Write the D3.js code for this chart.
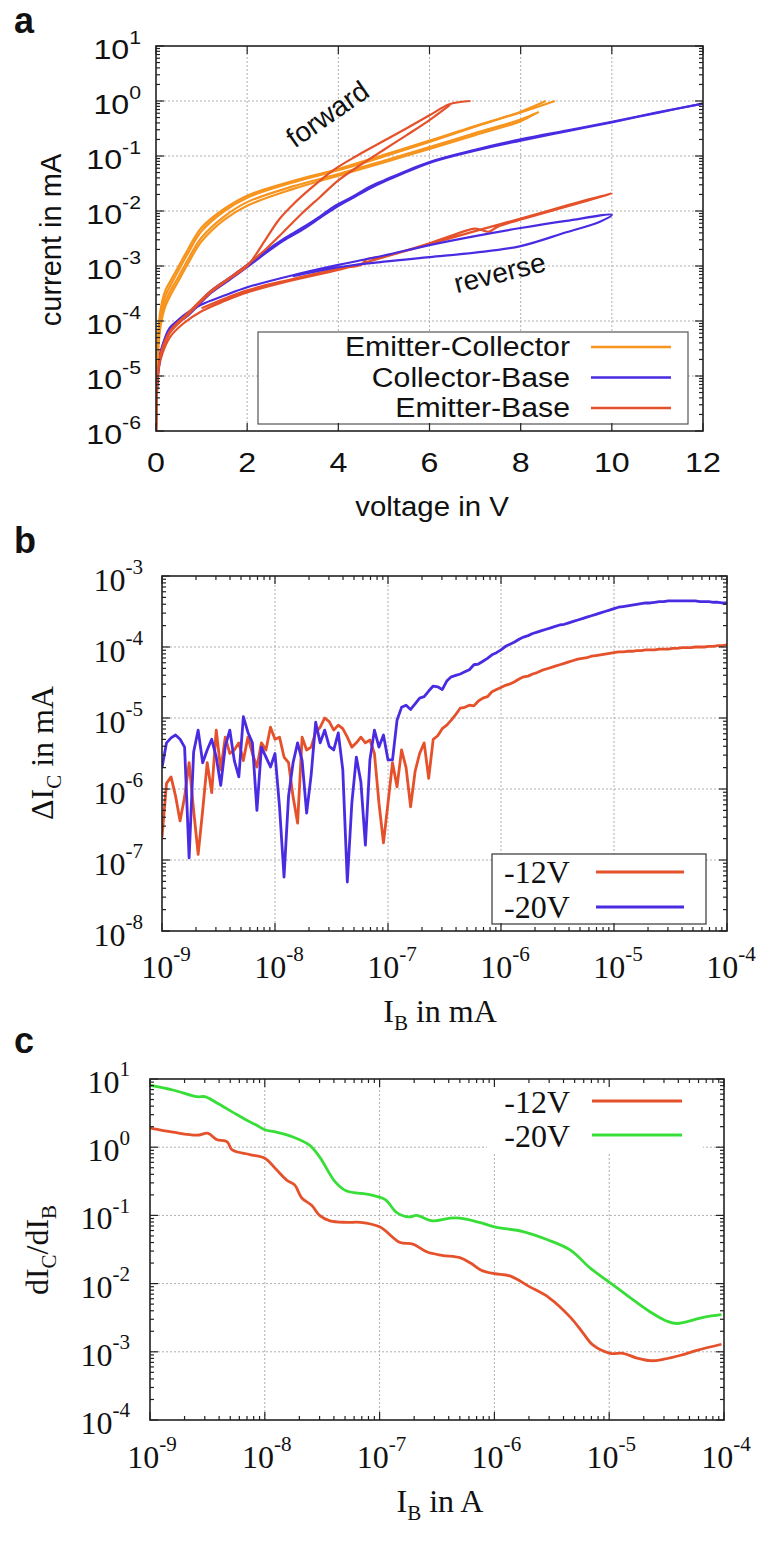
<!DOCTYPE html>
<html>
<head>
<meta charset="utf-8">
<script src="https://cdn.jsdelivr.net/npm/d3@7"></script>
<style>
body { margin: 0; background: #fff; }
</style>
</head>
<body>
<svg id="chart" width="759" height="1554"></svg>
<script>
// ---------- panel a : I-V sweeps, [voltage in V, current in mA] ----------
const ecSweep1 = [[0,1e-6],[0.01,5e-6],[0.02,1.5e-5],[0.05,6e-5],[0.1,1.6e-4],[0.2,3.5e-4],[0.35,6e-4],[0.5,1e-3],[0.7,2e-3],[1,5e-3],[1.5,1.1e-2],[2,1.9e-2],[3,3.5e-2],[4,5.8e-2],[5,0.105],[6,0.19],[7,0.35],[8,0.62],[8.75,1.0]];
const ecSweep2 = [[0,1e-6],[0.01,4e-6],[0.02,1.2e-5],[0.05,5e-5],[0.1,1.3e-4],[0.2,2.8e-4],[0.35,5e-4],[0.5,8.5e-4],[0.7,1.7e-3],[1,4.3e-3],[1.5,1e-2],[2,1.75e-2],[3,3.3e-2],[4,5.5e-2],[5,9.8e-2],[6,0.18],[7,0.34],[8,0.64],[8.55,1.0]];
const ecSweep3 = [[0,1e-6],[0.02,1e-5],[0.05,4e-5],[0.1,1e-4],[0.2,2.2e-4],[0.35,4e-4],[0.5,6.5e-4],[0.7,1.3e-3],[1,3.3e-3],[1.5,8e-3],[2,1.45e-2],[3,2.8e-2],[4,4.7e-2],[5,8.2e-2],[6,0.145],[7,0.26],[8,0.46],[8.4,0.63]];
const ecSweep4 = [[0,1e-6],[0.02,8e-6],[0.05,3e-5],[0.1,8e-5],[0.2,1.8e-4],[0.35,3.3e-4],[0.5,5.5e-4],[0.7,1.1e-3],[1,2.8e-3],[1.5,7e-3],[2,1.25e-2],[3,2.5e-2],[4,4.4e-2],[5,7.6e-2],[6,0.135],[7,0.24],[8,0.43],[8.3,0.58]];

const cbForward1 = [[0,1e-6],[0.02,5e-6],[0.05,1.2e-5],[0.1,2.2e-5],[0.3,7e-5],[0.7,1.25e-4],[1.2,3.2e-4],[1.6,5.5e-4],[2,9.5e-4],[2.4,1.7e-3],[2.8,2.9e-3],[3.2,4.5e-3],[3.6,7.5e-3],[3.9,1.1e-2],[4.3,1.7e-2],[4.7,2.6e-2],[5,3.4e-2],[6,7.5e-2],[7,0.125],[8,0.19],[9,0.28],[10,0.41],[11,0.61],[12,0.9]];
const cbForward2 = [[0,1e-6],[0.02,6e-6],[0.05,1.4e-5],[0.1,2.5e-5],[0.3,7.5e-5],[0.7,1.35e-4],[1.2,3.5e-4],[1.6,6e-4],[2,1.05e-3],[2.4,1.85e-3],[2.8,3.1e-3],[3.2,4.9e-3],[3.6,8e-3],[3.9,1.2e-2],[4.3,1.8e-2],[4.7,2.8e-2],[5,3.6e-2],[6,7.8e-2],[7,0.13],[8,0.2],[9,0.29],[10,0.42],[11,0.62],[12,0.9]];
const cbReverse = [[0,1e-6],[0.02,6e-6],[0.05,1.5e-5],[0.1,2.8e-5],[0.3,7e-5],[0.6,1.25e-4],[1,2e-4],[1.5,2.9e-4],[2,4.1e-4],[3,6.8e-4],[4,1.05e-3],[5,1.55e-3],[6,2.4e-3],[7,3.5e-3],[8,4.9e-3],[9,6.6e-3],[10,8.5e-3],[9.7,6.2e-3],[9,4.1e-3],[8,2.3e-3],[7,1.75e-3],[6,1.45e-3],[5,1.2e-3],[4,9.5e-4],[3,6.5e-4]];

const ebForward1 = [[0,1e-6],[0.02,5e-6],[0.05,1.2e-5],[0.1,2.2e-5],[0.3,6e-5],[0.7,1.3e-4],[1.2,3.3e-4],[1.6,5.8e-4],[2,1e-3],[2.4,3e-3],[2.7,7e-3],[3,1.3e-2],[3.4,2.6e-2],[3.9,5.6e-2],[4.4,0.1],[4.9,0.17],[5.5,0.32],[6,0.55],[6.45,0.88],[6.9,1.0]];
const ebForward2 = [[0,1e-6],[0.02,6e-6],[0.05,1.4e-5],[0.1,2.5e-5],[0.3,6.5e-5],[0.7,1.4e-4],[1.2,3.5e-4],[1.6,6e-4],[2,1.05e-3],[2.4,2e-3],[2.8,4.2e-3],[3.2,9e-3],[3.6,1.8e-2],[4,3.6e-2],[4.5,7e-2],[5,0.13],[5.5,0.24],[6,0.45],[6.45,0.85]];
const ebReverse = [[0,1e-6],[0.02,5e-6],[0.05,1.1e-5],[0.1,2e-5],[0.3,5e-5],[0.6,9e-5],[1,1.5e-4],[1.5,2.3e-4],[2,3.3e-4],[3,5.5e-4],[4,8.5e-4],[4.5,1.1e-3],[5,1.45e-3],[6,2.5e-3],[7,4.3e-3],[8,7.3e-3],[9,1.25e-2],[10,2.1e-2],[9.8,1.85e-2],[9,1.2e-2],[8,7e-3],[7.5,5.2e-3],[7.3,4.2e-3],[7.0,4.8e-3],[6.5,3.6e-3],[6,2.6e-3],[5,1.5e-3],[4.6,1.3e-3],[4.5,1.05e-3],[4,9e-4],[3,5.8e-4],[2,3.6e-4],[1,1.7e-4]];

const legendA = ["Emitter-Collector", "Collector-Base", "Emitter-Base"];

// ---------- panel b : log10 of I_B (mA) and log10 of delta I_C (mA) ----------
const ibLog = [
  -9.00,-8.96,-8.92,-8.88,-8.84,-8.80,-8.76,-8.72,-8.68,-8.64,
  -8.60,-8.56,-8.52,-8.48,-8.44,-8.40,-8.36,-8.32,-8.28,-8.24,
  -8.20,-8.16,-8.12,-8.08,-8.04,-8.00,-7.96,-7.92,-7.88,-7.84,
  -7.80,-7.76,-7.72,-7.68,-7.64,-7.60,-7.56,-7.52,-7.48,-7.44,
  -7.40,-7.36,-7.32,-7.28,-7.24,-7.20,-7.16,-7.12,-7.08,-7.04,
  -7.00,-6.96,-6.92,-6.88,-6.84,-6.80,-6.76,-6.72,-6.68,-6.64,
  -6.60,-6.56,-6.52,-6.48,-6.44,-6.40,-6.36,-6.32,-6.28,-6.24,
  -6.20,-6.16,-6.12,-6.08,-6.04,-6.00,-5.96,-5.92,-5.88,-5.84,
  -5.80,-5.76,-5.72,-5.68,-5.64,-5.60,-5.56,-5.52,-5.48,-5.44,
  -5.40,-5.36,-5.32,-5.28,-5.24,-5.20,-5.16,-5.12,-5.08,-5.04,
  -5.00,-4.96,-4.92,-4.88,-4.84,-4.80,-4.76,-4.72,-4.68,-4.64,
  -4.60,-4.56,-4.52,-4.48,-4.44,-4.40,-4.36,-4.32,-4.28,-4.24,
  -4.20,-4.16,-4.12,-4.08,-4.04,-4.00];
const dIc12Log = [
  -6.68,-5.92,-5.83,-6.10,-6.45,-6.11,-5.63,-6.30,-6.92,-6.30,
  -5.63,-6.05,-5.17,-5.73,-5.27,-5.50,-5.45,-5.35,-5.60,-5.27,
  -5.50,-5.69,-5.35,-5.45,-5.13,-5.30,-5.27,-5.55,-5.63,-6.11,
  -6.48,-5.27,-5.45,-5.41,-5.20,-5.13,-5.00,-5.05,-5.17,-5.10,
  -5.15,-5.27,-5.41,-5.35,-5.27,-5.35,-5.31,-5.50,-6.20,-6.76,
  -6.20,-5.63,-5.97,-5.45,-5.70,-6.25,-5.75,-5.50,-5.35,-5.85,
  -5.30,-5.25,-5.15,-5.10,-5.03,-4.95,-4.86,-4.85,-4.82,-4.83,
  -4.76,-4.72,-4.70,-4.63,-4.60,-4.57,-4.54,-4.52,-4.49,-4.45,
  -4.42,-4.41,-4.38,-4.36,-4.33,-4.31,-4.29,-4.27,-4.25,-4.23,
  -4.21,-4.19,-4.17,-4.16,-4.15,-4.13,-4.12,-4.11,-4.10,-4.09,
  -4.08,-4.07,-4.07,-4.06,-4.06,-4.05,-4.05,-4.04,-4.04,-4.04,
  -4.03,-4.03,-4.03,-4.02,-4.02,-4.01,-4.01,-4.01,-4.00,-4.00,
  -4.00,-3.99,-3.99,-3.98,-3.98,-3.97];
const dIc20Log = [
  -5.70,-5.35,-5.28,-5.24,-5.30,-5.41,-6.97,-5.48,-5.17,-5.63,
  -5.45,-5.30,-5.55,-5.95,-5.40,-5.17,-5.60,-5.83,-4.98,-5.20,
  -5.35,-6.30,-5.41,-5.55,-5.69,-5.50,-6.25,-7.24,-6.10,-5.63,
  -5.35,-5.60,-6.34,-5.80,-5.06,-5.35,-5.17,-5.40,-5.45,-5.21,
  -5.73,-7.31,-6.20,-5.55,-5.90,-6.79,-5.59,-5.17,-5.41,-5.24,
  -5.59,-5.59,-5.03,-4.85,-4.82,-4.88,-4.80,-4.72,-4.70,-4.62,
  -4.55,-4.56,-4.60,-4.48,-4.42,-4.40,-4.38,-4.35,-4.32,-4.25,
  -4.24,-4.20,-4.16,-4.11,-4.08,-4.04,-3.99,-3.96,-3.93,-3.89,
  -3.86,-3.84,-3.81,-3.79,-3.77,-3.75,-3.73,-3.71,-3.69,-3.68,
  -3.66,-3.64,-3.62,-3.60,-3.58,-3.56,-3.54,-3.52,-3.50,-3.48,
  -3.46,-3.44,-3.43,-3.42,-3.41,-3.40,-3.39,-3.38,-3.38,-3.37,
  -3.36,-3.36,-3.35,-3.35,-3.35,-3.35,-3.35,-3.35,-3.35,-3.36,
  -3.36,-3.36,-3.37,-3.37,-3.38,-3.38];

// ---------- panel c : [I_B in A, dI_C/dI_B] ----------
const gain12 = [[1.0e-9,1.9],[1.58e-9,1.66],[2.57e-9,1.5],[3.2e-9,1.6],[3.8e-9,1.3],[4.7e-9,1.2],[5.2e-9,0.91],[7.4e-9,0.78],[1.0e-8,0.69],[1.26e-8,0.47],[1.55e-8,0.33],[1.82e-8,0.28],[2.1e-8,0.18],[2.57e-8,0.14],[3.0e-8,0.10],[3.7e-8,0.083],[5.2e-8,0.079],[6.8e-8,0.079],[1.0e-7,0.068],[1.51e-7,0.040],[1.95e-7,0.038],[2.6e-7,0.029],[3.5e-7,0.026],[5.0e-7,0.024],[6.2e-7,0.020],[7.8e-7,0.0155],[1.0e-6,0.014],[1.38e-6,0.0129],[2.0e-6,0.0091],[3.0e-6,0.0062],[4.6e-6,0.0032],[5.9e-6,0.0019],[7.2e-6,0.00126],[1.02e-5,0.00095],[1.32e-5,0.00095],[1.74e-5,0.00081],[2.3e-5,0.00074],[3.0e-5,0.00078],[4.2e-5,0.00089],[5.8e-5,0.00105],[9.5e-5,0.00129]];
const gain20 = [[1.0e-9,8.1],[1.58e-9,6.9],[2.57e-9,5.5],[3.0e-9,5.5],[3.8e-9,4.5],[5.2e-9,3.3],[6.9e-9,2.5],[8.5e-9,2.1],[1.0e-8,1.8],[1.26e-8,1.66],[1.78e-8,1.4],[2.45e-8,1.07],[3.0e-8,0.72],[4.1e-8,0.31],[5.1e-8,0.23],[8.3e-8,0.20],[1.12e-7,0.17],[1.41e-7,0.11],[1.82e-7,0.095],[2.1e-7,0.10],[2.9e-7,0.083],[4.1e-7,0.091],[5.0e-7,0.091],[7.4e-7,0.079],[1.0e-6,0.068],[1.78e-6,0.058],[2.9e-6,0.044],[4.6e-6,0.031],[6.8e-6,0.017],[1.0e-5,0.0105],[1.51e-5,0.0063],[2.3e-5,0.0038],[3.2e-5,0.0028],[3.9e-5,0.0026],[6.6e-5,0.0032],[9.5e-5,0.0035]];

const voltLegend = ["-12V", "-20V"];

// ---------- drawing ----------
const svg = d3.select("#chart");
const sans = "'Liberation Sans', Arial, sans-serif";
const serif = "'Liberation Serif', 'Times New Roman', serif";
const orange = "#f7941d", blue = "#4a2be2", red = "#e5512b", green = "#38de38";
const stretchA = 1.15; // panel a lettering looks horizontally widened

function tickList(scale, isLog, step) {
  if (!isLog) return d3.range(scale.domain()[0], scale.domain()[1] + 1e-9, step).map(v => ({v: v, major: true}));
  return scale.ticks().map(v => {
    const l = Math.log10(v);
    return {v: v, major: Math.abs(l - Math.round(l)) < 1e-6};
  });
}

function drawGrid(g, x, y, xt, yt) {
  const [xl, xr] = x.range(), [yb, ytop] = y.range();
  g.append("g").selectAll("line")
    .data(xt.filter(d => d.major && x(d.v) > xl + 2 && x(d.v) < xr - 2))
    .join("line")
    .attr("x1", d => x(d.v)).attr("x2", d => x(d.v))
    .attr("y1", yb).attr("y2", ytop)
    .attr("stroke", "#b0b0b0").attr("stroke-dasharray", "2,2");
  g.append("g").selectAll("line")
    .data(yt.filter(d => d.major && y(d.v) < yb - 2 && y(d.v) > ytop + 2))
    .join("line")
    .attr("y1", d => y(d.v)).attr("y2", d => y(d.v))
    .attr("x1", xl).attr("x2", xr)
    .attr("stroke", "#b0b0b0").attr("stroke-dasharray", "2,2");
}

function drawTicks(g, x, y, xt, yt) {
  const [xl, xr] = x.range(), [yb, ytop] = y.range();
  const tk = g.append("g").attr("stroke", "#222").attr("stroke-width", 1.2);
  xt.forEach(d => {
    const len = d.major ? 8 : 4, px = x(d.v);
    tk.append("line").attr("x1", px).attr("x2", px).attr("y1", yb).attr("y2", yb - len);
    tk.append("line").attr("x1", px).attr("x2", px).attr("y1", ytop).attr("y2", ytop + len);
  });
  yt.forEach(d => {
    const len = d.major ? 8 : 4, py = y(d.v);
    tk.append("line").attr("y1", py).attr("y2", py).attr("x1", xl).attr("x2", xl + len);
    tk.append("line").attr("y1", py).attr("y2", py).attr("x1", xr).attr("x2", xr - len);
  });
  g.append("rect")
    .attr("x", xl).attr("y", ytop).attr("width", xr - xl).attr("height", yb - ytop)
    .attr("fill", "none").attr("stroke", "#222").attr("stroke-width", 1.6);
}

// text placed at (px,py), optionally widened horizontally
function label(g, px, py, size, family, anchor, sx) {
  return g.append("text")
    .attr("transform", "translate(" + px + "," + py + ") scale(" + (sx || 1) + ",1)")
    .attr("font-family", family).attr("font-size", size)
    .attr("text-anchor", anchor).attr("fill", "#111");
}

function powLabel(g, px, py, exp, size, family, anchor, sx) {
  const t = label(g, px, py, size, family, anchor, sx);
  t.append("tspan").text("10");
  t.append("tspan").attr("dy", -size * 0.52).attr("font-size", size * 0.66).text(exp);
}

function clipFor(id, x, y) {
  const [xl, xr] = x.range(), [yb, ytop] = y.range();
  svg.append("clipPath").attr("id", id).append("rect")
    .attr("x", xl).attr("y", ytop).attr("width", xr - xl).attr("height", yb - ytop);
}

function panelLetter(txt, px, py) {
  svg.append("text").attr("x", px).attr("y", py)
    .attr("font-family", sans).attr("font-weight", "bold").attr("font-size", 36)
    .attr("fill", "#111").text(txt);
}

// ===== panel a =====
const xA = d3.scaleLinear().domain([0, 12]).range([156, 703]);
const yA = d3.scaleLog().domain([1e-6, 10]).range([431, 46]);
const xtA = tickList(xA, false, 2), ytA = tickList(yA, true);
const gA = svg.append("g");
drawGrid(gA, xA, yA, xtA, ytA);
clipFor("clipA", xA, yA);

const lineA = d3.line().x(d => xA(d[0])).y(d => yA(d[1])).curve(d3.curveCatmullRom.alpha(0.5));
const curvesA = [
  {data: ebReverse, color: red}, {data: cbReverse, color: blue},
  {data: cbForward1, color: blue}, {data: cbForward2, color: blue},
  {data: ecSweep1, color: orange}, {data: ecSweep2, color: orange},
  {data: ecSweep3, color: orange}, {data: ecSweep4, color: orange},
  {data: ebForward1, color: red}, {data: ebForward2, color: red}
];
gA.append("g").attr("clip-path", "url(#clipA)")
  .selectAll("path").data(curvesA).join("path")
  .attr("d", d => lineA(d.data))
  .attr("fill", "none").attr("stroke", d => d.color)
  .attr("stroke-width", 2.2).attr("stroke-linejoin", "round");

// legend a
const legA = gA.append("g");
legA.append("rect").attr("x", 258).attr("y", 332).attr("width", 430).attr("height", 92)
  .attr("fill", "#fff").attr("stroke", "#555").attr("stroke-width", 1.2);
legendA.forEach((name, i) => {
  const cy = 347 + i * 30.5;
  label(legA, 570, cy + 9, 27, sans, "end", 1.12).text(name);
  legA.append("line").attr("x1", 591).attr("x2", 671).attr("y1", cy).attr("y2", cy)
    .attr("stroke", [orange, blue, red][i]).attr("stroke-width", 2.5);
});

drawTicks(gA, xA, yA, xtA, ytA);

ytA.filter(d => d.major).forEach(d => {
  powLabel(gA, 141, yA(d.v) + 13, String(Math.round(Math.log10(d.v))), 28, sans, "end", stretchA);
});
xtA.forEach(d => {
  label(gA, xA(d.v), 472, 28, sans, "middle", stretchA).text(d.v);
});
label(gA, 432, 516, 28, sans, "middle", 1.05).text("voltage in V");
gA.append("text").attr("transform", "translate(61,240) rotate(-90)").attr("text-anchor", "middle")
  .attr("font-family", sans).attr("font-size", 29).attr("fill", "#111").text("current in mA");
gA.append("text").attr("transform", "translate(333,122) rotate(-35)").attr("text-anchor", "middle")
  .attr("font-family", sans).attr("font-size", 28).attr("fill", "#111").text("forward");
gA.append("text").attr("transform", "translate(502,282) rotate(-14)").attr("text-anchor", "middle")
  .attr("font-family", sans).attr("font-size", 28).attr("fill", "#111").text("reverse");
panelLetter("a", 14, 33);

// ===== panel b =====
const xB = d3.scaleLog().domain([1e-9, 1e-4]).range([162, 727]);
const yB = d3.scaleLog().domain([1e-8, 1e-3]).range([931, 576]);
const xtB = tickList(xB, true), ytB = tickList(yB, true);
const gB = svg.append("g");
drawGrid(gB, xB, yB, xtB, ytB);
clipFor("clipB", xB, yB);

const seriesB = [
  {vals: dIc12Log, color: red},
  {vals: dIc20Log, color: blue}
];
const lineB = d3.line().x(d => xB(d[0])).y(d => yB(d[1]));
gB.append("g").attr("clip-path", "url(#clipB)")
  .selectAll("path").data(seriesB).join("path")
  .attr("d", s => lineB(ibLog.map((v, i) => [Math.pow(10, v), Math.pow(10, s.vals[i])])))
  .attr("fill", "none").attr("stroke", s => s.color)
  .attr("stroke-width", 2.8).attr("stroke-linejoin", "round");

const legB = gB.append("g");
legB.append("rect").attr("x", 492).attr("y", 854).attr("width", 214).attr("height", 70)
  .attr("fill", "#fff").attr("stroke", "#444").attr("stroke-width", 1.3);
voltLegend.forEach((name, i) => {
  const cy = 872 + i * 35;
  legB.append("text").attr("x", 504).attr("y", cy + 11)
    .attr("font-family", serif).attr("font-size", 32).attr("fill", "#111").text(name);
  legB.append("line").attr("x1", 596).attr("x2", 684).attr("y1", cy).attr("y2", cy)
    .attr("stroke", [red, blue][i]).attr("stroke-width", 3);
});

drawTicks(gB, xB, yB, xtB, ytB);
ytB.filter(d => d.major).forEach(d => {
  powLabel(gB, 143, yB(d.v) + 15, String(Math.round(Math.log10(d.v))), 32, serif, "end");
});
xtB.filter(d => d.major).forEach(d => {
  powLabel(gB, xB(d.v) + 4, 978, String(Math.round(Math.log10(d.v))), 32, serif, "middle");
});
const xlabB = gB.append("text").attr("x", 440).attr("y", 1022).attr("text-anchor", "middle")
  .attr("font-family", serif).attr("font-size", 32).attr("fill", "#111");
xlabB.append("tspan").text("I");
xlabB.append("tspan").attr("dy", 8).attr("font-size", 21).text("B");
xlabB.append("tspan").attr("dy", -8).text(" in mA");
const ylabB = gB.append("text").attr("transform", "translate(53,753) rotate(-90)").attr("text-anchor", "middle")
  .attr("font-family", serif).attr("font-size", 32).attr("fill", "#111");
ylabB.append("tspan").text("\u0394I");
ylabB.append("tspan").attr("dy", 8).attr("font-size", 21).text("C");
ylabB.append("tspan").attr("dy", -8).text(" in mA");
panelLetter("b", 14, 553);

// ===== panel c =====
const xC = d3.scaleLog().domain([1e-9, 1e-4]).range([150, 724]);
const yC = d3.scaleLog().domain([1e-4, 10]).range([1420, 1079]);
const xtC = tickList(xC, true), ytC = tickList(yC, true);
const gC = svg.append("g");
drawGrid(gC, xC, yC, xtC, ytC);
clipFor("clipC", xC, yC);

// legend c background (no border) hides grid behind key
gC.append("rect").attr("x", 487).attr("y", 1080).attr("width", 216).attr("height", 73).attr("fill", "#fff");

const lineC = d3.line().x(d => xC(d[0])).y(d => yC(d[1])).curve(d3.curveCatmullRom.alpha(0.5));
gC.append("g").attr("clip-path", "url(#clipC)")
  .selectAll("path").data([{data: gain12, color: red}, {data: gain20, color: green}]).join("path")
  .attr("d", d => lineC(d.data))
  .attr("fill", "none").attr("stroke", d => d.color)
  .attr("stroke-width", 2.8).attr("stroke-linejoin", "round");

voltLegend.forEach((name, i) => {
  const cy = 1101 + i * 34;
  gC.append("text").attr("x", 570).attr("y", cy + 12).attr("text-anchor", "end")
    .attr("font-family", serif).attr("font-size", 32).attr("fill", "#111").text(name);
  gC.append("line").attr("x1", 592).attr("x2", 682).attr("y1", cy).attr("y2", cy)
    .attr("stroke", [red, green][i]).attr("stroke-width", 3);
});

drawTicks(gC, xC, yC, xtC, ytC);
ytC.filter(d => d.major).forEach(d => {
  powLabel(gC, 130, yC(d.v) + 14, String(Math.round(Math.log10(d.v))), 32, serif, "end");
});
xtC.filter(d => d.major).forEach(d => {
  powLabel(gC, xC(d.v) + 2, 1468, String(Math.round(Math.log10(d.v))), 32, serif, "middle");
});
const xlabC = gC.append("text").attr("x", 440).attr("y", 1512).attr("text-anchor", "middle")
  .attr("font-family", serif).attr("font-size", 32).attr("fill", "#111");
xlabC.append("tspan").text("I");
xlabC.append("tspan").attr("dy", 8).attr("font-size", 21).text("B");
xlabC.append("tspan").attr("dy", -8).text(" in A");
const ylabC = gC.append("text").attr("transform", "translate(48,1250) rotate(-90)").attr("text-anchor", "middle")
  .attr("font-family", serif).attr("font-size", 32).attr("fill", "#111");
ylabC.append("tspan").text("dI");
ylabC.append("tspan").attr("dy", 8).attr("font-size", 21).text("C");
ylabC.append("tspan").attr("dy", -8).text("/dI");
ylabC.append("tspan").attr("dy", 8).attr("font-size", 21).text("B");
panelLetter("c", 14, 1053);
</script>
</body>
</html>
